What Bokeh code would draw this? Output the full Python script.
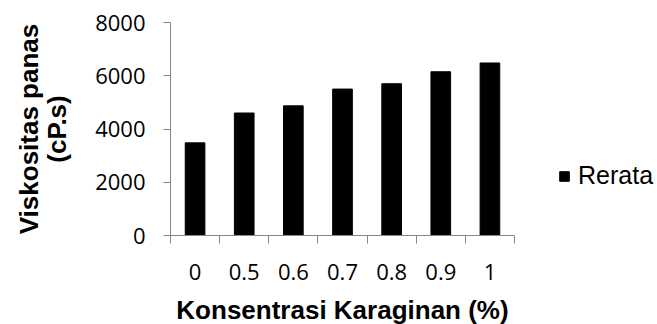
from bokeh.plotting import figure
from bokeh.models import Range1d, FixedTicker, Legend, LegendItem, ColumnDataSource
from bokeh.embed import file_html
from bokeh.resources import INLINE

categories = ["0", "0.5", "0.6", "0.7", "0.8", "0.9", "1"]
values = [3480, 4600, 4870, 5500, 5700, 6150, 6480]
y_ticks = [0, 2000, 4000, 6000, 8000]
series_name = "Rerata"

n = len(categories)
centers = [i + 0.5 for i in range(n)]
bounds = list(range(n + 1))

p = figure(frame_width=344, frame_height=213, output_backend="svg", toolbar_location=None,
           x_range=Range1d(0, n), y_range=Range1d(0, 8000),
           min_border_left=170, min_border_right=143, min_border_top=22, min_border_bottom=0)
p.outline_line_color = None
p.grid.visible = False
p.background_fill_color = "white"
p.border_fill_color = "white"

src = ColumnDataSource(dict(x=centers, top=values))
r = p.vbar(x="x", top="top", width=0.4, source=src, fill_color="black", line_color="black")

axis_color = "#868686"
# x axis
p.xaxis.ticker = FixedTicker(ticks=centers, minor_ticks=bounds)
p.xaxis.major_label_overrides = {c: lab for c, lab in zip(centers, categories)}
p.xaxis.major_tick_out = 0
p.xaxis.major_tick_in = 0
p.xaxis.minor_tick_out = 8
p.xaxis.minor_tick_in = 0
p.xaxis.minor_tick_line_color = axis_color
p.xaxis.axis_line_color = axis_color
p.xaxis.major_label_standoff = 20
p.xaxis.major_label_text_font = "Open Sans"
p.xaxis.major_label_text_font_size = "22px"
p.xaxis.major_label_text_color = "black"
p.xaxis.axis_label = "Konsentrasi Karaginan (%)"
p.xaxis.axis_label_text_font = "Liberation Sans"
p.xaxis.axis_label_text_font_style = "bold"
p.xaxis.axis_label_text_font_size = "26px"
p.xaxis.axis_label_text_color = "black"
p.xaxis.axis_label_standoff = 12

# y axis
p.yaxis.ticker = FixedTicker(ticks=y_ticks)
p.yaxis.minor_tick_line_color = None
p.yaxis.major_tick_out = 7
p.yaxis.major_tick_in = 0
p.yaxis.major_tick_line_color = axis_color
p.yaxis.axis_line_color = axis_color
p.yaxis.major_label_standoff = 18
p.yaxis.major_label_text_font = "Open Sans"
p.yaxis.major_label_text_font_size = "22px"
p.yaxis.major_label_text_color = "black"
p.yaxis.axis_label = "Viskositas panas\n(cP.s)"
p.yaxis.axis_label_text_font = "Liberation Sans"
p.yaxis.axis_label_text_font_style = "bold"
p.yaxis.axis_label_text_font_size = "26px"
p.yaxis.axis_label_text_line_height = 0.95
p.yaxis.axis_label_text_color = "black"
p.yaxis.axis_label_standoff = 20

legend = Legend(items=[LegendItem(label=series_name, renderers=[r])], location=(44, 45))
legend.border_line_color = None
legend.background_fill_alpha = 0
legend.padding = 0
legend.margin = 0
legend.glyph_width = 12
legend.glyph_height = 12
legend.label_standoff = 8
legend.label_text_font = "Liberation Sans"
legend.label_text_font_size = "25px"
legend.label_text_color = "black"
p.add_layout(legend, "right")

open("out.html", "w").write(file_html(p, INLINE))
